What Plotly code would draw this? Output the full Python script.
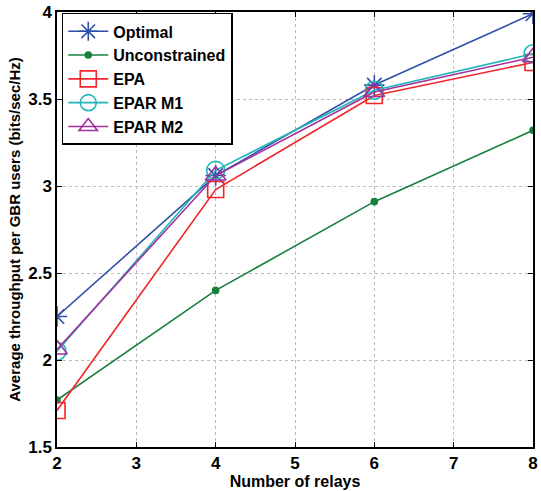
import plotly.graph_objects as go

relays = [2, 4, 6, 8]
optimal = [2.25, 3.06, 3.58, 3.99]
unconstrained = [1.77, 2.40, 2.91, 3.32]
epa = [1.71, 2.98, 3.52, 3.71]
epar_m1 = [2.05, 3.09, 3.55, 3.76]
epar_m2 = [2.06, 3.06, 3.54, 3.74]

series = [
    ("Optimal", optimal, "#2F4FA8", "asterisk-open", 17),
    ("Unconstrained", unconstrained, "#17803E", "circle", 6),
    ("EPA", epa, "#F0262A", "square-open", 16),
    ("EPAR M1", epar_m1, "#22B5B8", "circle-open", 18),
    ("EPAR M2", epar_m2, "#A2319E", "triangle-up-open", 18),
]

fig = go.Figure()
for name, ys, color, sym, size in series:
    fig.add_trace(go.Scatter(
        x=relays, y=ys, name=name, mode="lines+markers",
        line=dict(color=color, width=1.6),
        marker=dict(symbol=sym, size=size, color=color, line=dict(color=color, width=1.6)),
    ))

bold = dict(family="Liberation Sans", color="black", weight="bold")
fig.update_layout(
    width=541, height=491,
    margin=dict(l=57, r=3, t=12, b=44),
    paper_bgcolor="white", plot_bgcolor="white",
    font=dict(family="Liberation Sans", size=15, color="black"),
    showlegend=True,
    legend=dict(
        x=0.01, y=0.998, xanchor="left", yanchor="top",
        bgcolor="white", bordercolor="black", borderwidth=1.5,
        font=dict(size=16, **bold),
        tracegroupgap=0, itemwidth=40,
    ),
)
axis_common = dict(
    showline=True, linecolor="black", linewidth=1.5, mirror="ticks",
    ticks="inside", ticklen=5, tickcolor="black",
    showgrid=True, gridcolor="#bbbbbb", griddash="dot", gridwidth=1,
    zeroline=False,
    tickfont=dict(size=17, **bold),
)
fig.update_xaxes(
    range=[2, 8], dtick=1, **axis_common,
    title=dict(text="Number of relays", standoff=2, font=dict(size=16, **bold)),
)
fig.update_yaxes(
    range=[1.5, 4], dtick=0.5, **axis_common,
    title=dict(text="Average throughput per GBR users (bits/sec/Hz)", standoff=4,
               font=dict(size=15, **bold)),
)
fig.write_html("out.html")
